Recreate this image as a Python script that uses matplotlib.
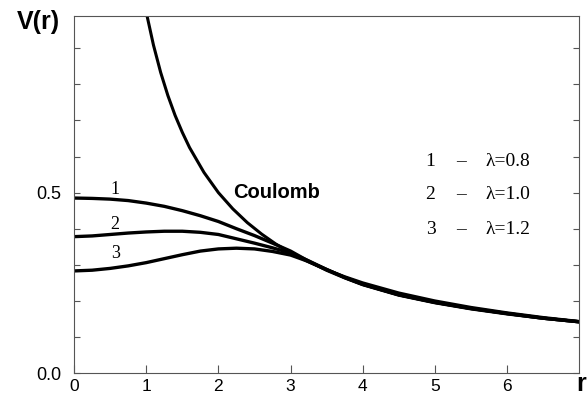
import matplotlib
matplotlib.use("Agg")
import matplotlib.pyplot as plt

# Coulomb potential V(r) = 1/r
r_coul = [1.0, 1.1, 1.2, 1.3, 1.4, 1.5, 1.6, 1.8, 2.0, 2.2, 2.4, 2.6, 2.8, 3.0,
          3.25, 3.5, 3.75, 4.0, 4.5, 5.0, 5.5, 6.0, 6.5, 7.0]
v_coul = [1.0, 0.909, 0.833, 0.769, 0.714, 0.667, 0.625, 0.556, 0.5, 0.455,
          0.417, 0.385, 0.357, 0.333, 0.308, 0.286, 0.267, 0.25, 0.222, 0.2,
          0.182, 0.167, 0.154, 0.143]

# screened potentials for three lambda values
r_scr = [0.0, 0.25, 0.5, 0.75, 1.0, 1.25, 1.5, 1.75, 2.0, 2.25, 2.5, 2.75, 3.0,
         3.25, 3.5, 3.75, 4.0, 4.5, 5.0, 5.5, 6.0, 6.5, 7.0]
v_lam08 = [0.485, 0.484, 0.482, 0.478, 0.471, 0.462, 0.450, 0.436, 0.420, 0.400,
           0.381, 0.360, 0.338, 0.310, 0.285, 0.264, 0.245, 0.216, 0.195, 0.178,
           0.164, 0.152, 0.142]
v_lam10 = [0.378, 0.380, 0.384, 0.388, 0.391, 0.393, 0.393, 0.390, 0.384, 0.372,
           0.360, 0.347, 0.333, 0.311, 0.287, 0.265, 0.246, 0.217, 0.196, 0.179,
           0.165, 0.152, 0.142]
v_lam12 = [0.283, 0.285, 0.290, 0.297, 0.306, 0.317, 0.328, 0.338, 0.344, 0.346,
           0.344, 0.337, 0.327, 0.309, 0.287, 0.265, 0.246, 0.217, 0.196, 0.179,
           0.165, 0.152, 0.142]
lambdas = ["0.8", "1.0", "1.2"]

fig = plt.figure(figsize=(5.88, 3.96), dpi=100)
ax = fig.add_axes([0.126, 0.058, 0.859, 0.902])

ax.plot(r_coul, v_coul, color="black", lw=2.2, solid_capstyle="butt")
for v in (v_lam08, v_lam10, v_lam12):
    ax.plot(r_scr, v, color="black", lw=2.4)

ax.set_xlim(0, 7)
ax.set_ylim(0, 0.99)

ax.set_xticks(range(7))
ax.set_yticks([0.0, 0.5])
ax.set_yticklabels(["0.0", "0.5"])
ax.set_yticks([0.1, 0.2, 0.3, 0.4, 0.6, 0.7, 0.8, 0.9], minor=True)
ax.tick_params(axis="x", direction="in", length=6, width=0.8, pad=4,
               labelsize=12.5, color="#555555")
ax.tick_params(axis="y", which="both", direction="in", length=4, width=0.8,
               pad=9, labelsize=13, right=True, color="#555555")
for lab in ax.get_xticklabels() + ax.get_yticklabels():
    lab.set_family("Liberation Sans")
for sp in ax.spines.values():
    sp.set_color("#555555")
    sp.set_linewidth(0.8)

serif = "Liberation Serif"
ax.text(0.57, 0.510, "1", family=serif, fontsize=13, ha="center", va="center")
ax.text(0.57, 0.412, "2", family=serif, fontsize=13, ha="center", va="center")
ax.text(0.57, 0.330, "3", family=serif, fontsize=13, ha="center", va="center")

ax.text(2.2, 0.5, "Coulomb", family="Liberation Sans", fontweight="bold",
        fontsize=14.5, ha="left", va="center")

for i, (lam, y) in enumerate(zip(lambdas, [0.586, 0.494, 0.397])):
    ax.text(4.94, y, str(i + 1), family=serif, fontsize=14, ha="center", va="center")
    ax.text(5.36, y, "–", family=serif, fontsize=14, ha="center", va="center")
    ax.text(5.70, y, "λ=" + lam, family=serif, fontsize=14, ha="left", va="center")

fig.text(0.065, 0.944, "V(r)", family="Liberation Sans", fontweight="bold",
         fontsize=18, ha="center", va="center")
fig.text(0.988, 0.03, "r", family="Liberation Sans", fontweight="bold",
         fontsize=18, ha="center", va="center")

fig.savefig("out.png", dpi=100)
